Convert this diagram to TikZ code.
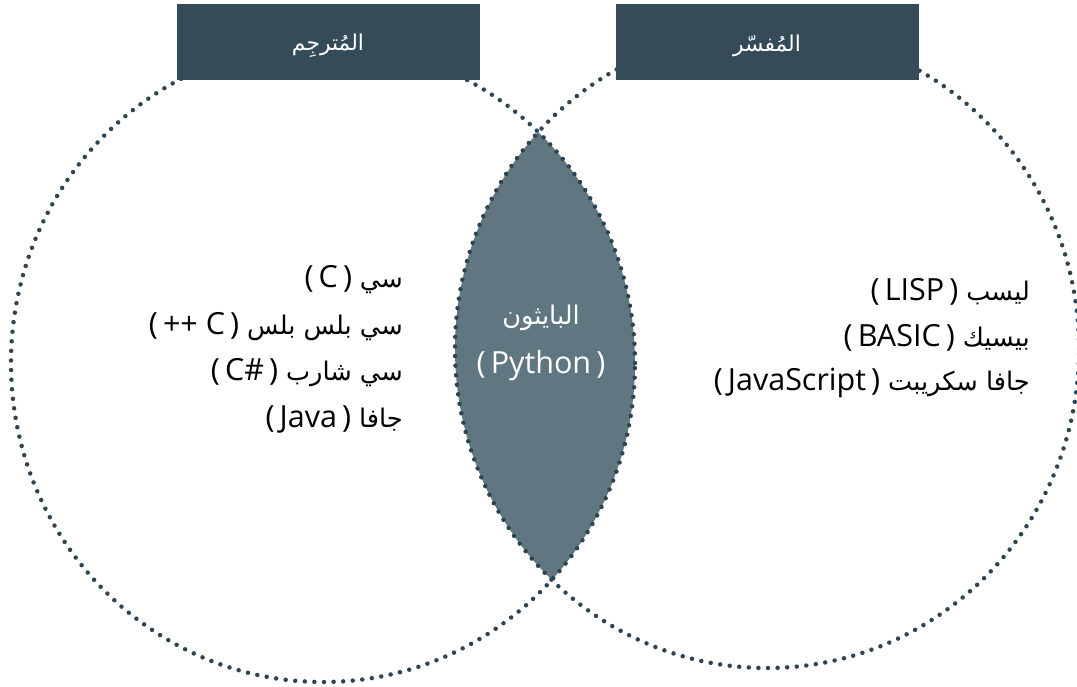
\documentclass[tikz,border=0pt]{standalone}
\usepackage{fontspec}
\setmainfont{Open Sans}
\newfontfamily\arabicfont[Script=Arabic,Scale=0.84]{DejaVu Sans}
\TeXXeTstate=1
\newcommand{\ar}[1]{{\arabicfont\beginR #1\endR}}
\newcommand{\pr}[1]{(\,#1\,)}
\definecolor{hdr}{HTML}{364B58}
\definecolor{lens}{HTML}{607680}
\definecolor{dots}{HTML}{2F4452}
\tikzset{
  dotline/.style={draw=dots, line width=4.5pt, line cap=round, dash pattern=on 0pt off 9.6pt},
  hdrbox/.style={fill=hdr, draw=none, minimum width=303pt, minimum height=76pt, inner sep=0pt},
  hdrtext/.style={text=white, font=\fontsize{26}{30}\selectfont, inner sep=0pt},
  item/.style={text=black, font=\fontsize{30.5}{36}\selectfont, inner sep=0pt, anchor=east},
  pytext/.style={text=white, font=\fontsize{30.5}{36}\selectfont, inner sep=0pt}
}
\begin{document}
\begin{tikzpicture}[x=1pt,y=-1pt]
\useasboundingbox (0,0) rectangle (1077,686);
\clip (0,0) rectangle (1077,686);
% lens
\begin{scope}
  \clip (323,363) ellipse [x radius=312pt, y radius=319pt];
  \fill[lens] (767,349) ellipse [x radius=312pt, y radius=319pt];
\end{scope}
\path[dotline] (323,363) ellipse [x radius=312pt, y radius=319pt];
\path[dotline] (767,349) ellipse [x radius=312pt, y radius=319pt];
% headers
\node[hdrbox] (hl) at (328.5,42) {};
\node[hdrbox] (hr) at (767.5,42) {};
\node[hdrtext] (tl) at (328,46) {\ar{المُترجِم}};
\node[hdrtext] (tr) at (767,46) {\ar{المُفسّر}};
% left list (visual left-to-right order)
\node[item] (l1) at (403,280) {\pr{C} \ar{سي}};
\node[item] (l2) at (403,327) {\pr{++ C} \ar{سي بلس بلس}};
\node[item] (l3) at (403,373) {\pr{C\#} \ar{سي شارب}};
\node[item] (l4) at (403,419) {\pr{Java} \ar{جافا}};
% centre
\node[pytext] (p1) at (541,318) {\ar{البايثون}};
\node[pytext] (p2) at (541,366) {\pr{Python}};
% right list
\node[item] (r1) at (1030,292) {\pr{LISP} \ar{ليسب}};
\node[item] (r2) at (1030,338) {\pr{BASIC} \ar{بيسيك}};
\node[item] (r3) at (1030,383) {\pr{JavaScript} \ar{جافا سكريبت}};
\end{tikzpicture}
\end{document}
